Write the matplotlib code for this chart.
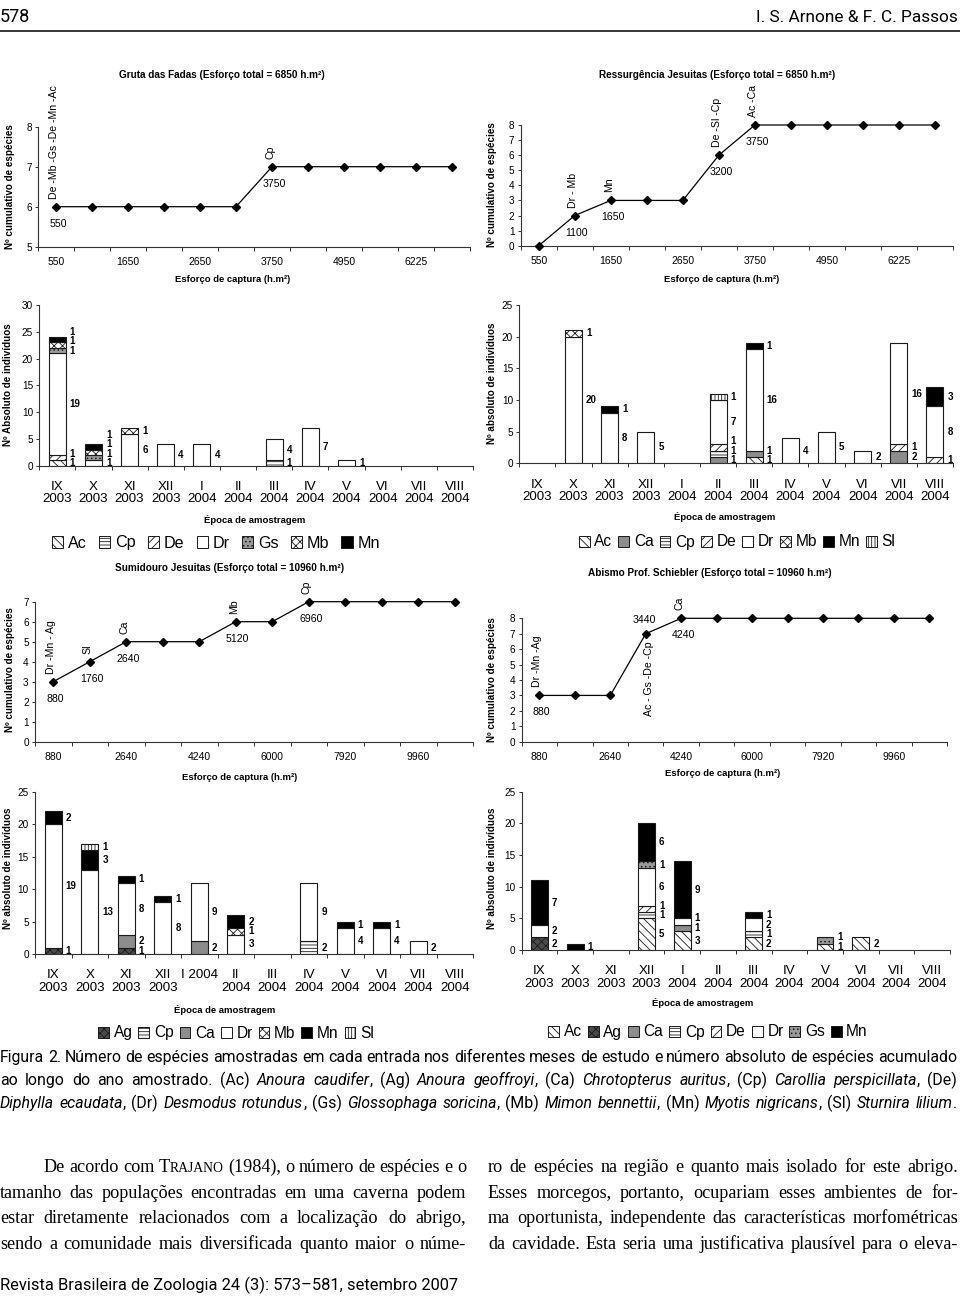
import numpy as np
import matplotlib
matplotlib.use('Agg')
import matplotlib.pyplot as plt
from matplotlib.patches import Patch
from matplotlib.lines import Line2D
from matplotlib import font_manager as fm

W, H, DPI = 960, 1299, 100
plt.rcParams['font.family'] = ['Liberation Sans', 'DejaVu Sans']
plt.rcParams['hatch.linewidth'] = 0.6
plt.rcParams['axes.linewidth'] = 0.8

# ------------------------------------------------------------------ data
month_labels = ['IX\n2003', 'X\n2003', 'XI\n2003', 'XII\n2003', 'I\n2004', 'II\n2004',
                'III\n2004', 'IV\n2004', 'V\n2004', 'VI\n2004', 'VII\n2004', 'VIII\n2004']
month_labels_sj = ['IX\n2003', 'X\n2003', 'XI\n2003', 'XII\n2003', 'I 2004', 'II\n2004',
                   'III\n2004', 'IV\n2004', 'V\n2004', 'VI\n2004', 'VII\n2004', 'VIII\n2004']

effort_6850 = ['550', '1650', '2650', '3750', '4950', '6225']
effort_10960 = ['880', '2640', '4240', '6000', '7920', '9960']

gf_cumulative = [6, 6, 6, 6, 6, 6, 7, 7, 7, 7, 7, 7]
rj_cumulative = [0, 2, 3, 3, 3, 6, 8, 8, 8, 8, 8, 8]
sj_cumulative = [3, 4, 5, 5, 5, 6, 6, 7, 7, 7, 7, 7]
ap_cumulative = [3, 3, 3, 7, 8, 8, 8, 8, 8, 8, 8, 8]

gf_notes = [(0, '550', 'below'), (0, 'De -Mb -Gs -De -Mn -Ac', 'above_rot'),
            (6, '3750', 'below'), (6, 'Cp', 'above_rot')]
rj_notes = [(1, '1100', 'below'), (1, 'Dr - Mb', 'above_rot'),
            (2, '1650', 'below'), (2, 'Mn', 'above_rot'),
            (5, '3200', 'below'), (5, 'De -Sl -Cp', 'above_rot'),
            (6, '3750', 'below'), (6, 'Ac -Ca', 'above_rot')]
sj_notes = [(0, '880', 'below'), (0, 'Dr -Mn - Ag', 'above_rot'),
            (1, '1760', 'below'), (1, 'Sl', 'above_rot'),
            (2, '2640', 'below'), (2, 'Ca', 'above_rot'),
            (5, '5120', 'below'), (5, 'Mb', 'above_rot'),
            (7, '6960', 'below'), (7, 'Cp', 'above_rot')]
ap_notes = [(0, '880', 'below'), (0, 'Dr -Mn -Ag', 'above_rot'),
            (3, '3440', 'above'), (3, 'Ac - Gs -De -Cp', 'below_rot'),
            (4, '4240', 'below'), (4, 'Ca', 'above_rot')]

# Gruta das Fadas (individuals per month)
gf_species = ['Ac', 'Cp', 'De', 'Dr', 'Gs', 'Mb', 'Mn']
gf_Ac = [1, 0, 0, 0, 0, 0, 0, 0, 0, 0, 0, 0]
gf_Cp = [0, 0, 0, 0, 0, 0, 1, 0, 0, 0, 0, 0]
gf_De = [1, 0, 0, 0, 0, 0, 0, 0, 0, 0, 0, 0]
gf_Dr = [19, 1, 6, 4, 4, 0, 4, 7, 1, 0, 0, 0]
gf_Gs = [1, 1, 0, 0, 0, 0, 0, 0, 0, 0, 0, 0]
gf_Mb = [1, 1, 1, 0, 0, 0, 0, 0, 0, 0, 0, 0]
gf_Mn = [1, 1, 0, 0, 0, 0, 0, 0, 0, 0, 0, 0]

# Ressurgencia Jesuitas
rj_species = ['Ac', 'Ca', 'Cp', 'De', 'Dr', 'Mb', 'Mn', 'Sl']
rj_Ac = [0, 0, 0, 0, 0, 0, 1, 0, 0, 0, 0, 0]
rj_Ca = [0, 0, 0, 0, 0, 1, 1, 0, 0, 0, 2, 0]
rj_Cp = [0, 0, 0, 0, 0, 1, 0, 0, 0, 0, 0, 0]
rj_De = [0, 0, 0, 0, 0, 1, 0, 0, 0, 0, 1, 1]
rj_Dr = [0, 20, 8, 5, 0, 7, 16, 4, 5, 2, 16, 8]
rj_Mb = [0, 1, 0, 0, 0, 0, 0, 0, 0, 0, 0, 0]
rj_Mn = [0, 0, 1, 0, 0, 0, 1, 0, 0, 0, 0, 3]
rj_Sl = [0, 0, 0, 0, 0, 1, 0, 0, 0, 0, 0, 0]

# Sumidouro Jesuitas
sj_species = ['Ag', 'Cp', 'Ca', 'Dr', 'Mb', 'Mn', 'Sl']
sj_Ag = [1, 0, 1, 0, 0, 0, 0, 0, 0, 0, 0, 0]
sj_Cp = [0, 0, 0, 0, 0, 0, 0, 2, 0, 0, 0, 0]
sj_Ca = [0, 0, 2, 0, 2, 0, 0, 0, 0, 0, 0, 0]
sj_Dr = [19, 13, 8, 8, 9, 3, 0, 9, 4, 4, 2, 0]
sj_Mb = [0, 0, 0, 0, 0, 1, 0, 0, 0, 0, 0, 0]
sj_Mn = [2, 3, 1, 1, 0, 2, 0, 0, 1, 1, 0, 0]
sj_Sl = [0, 1, 0, 0, 0, 0, 0, 0, 0, 0, 0, 0]

# Abismo Prof. Schiebler
ap_species = ['Ac', 'Ag', 'Ca', 'Cp', 'De', 'Dr', 'Gs', 'Mn']
ap_Ac = [0, 0, 0, 5, 3, 0, 2, 0, 1, 2, 0, 0]
ap_Ag = [2, 0, 0, 0, 0, 0, 0, 0, 0, 0, 0, 0]
ap_Ca = [0, 0, 0, 0, 1, 0, 0, 0, 0, 0, 0, 0]
ap_Cp = [0, 0, 0, 1, 0, 0, 1, 0, 0, 0, 0, 0]
ap_De = [0, 0, 0, 1, 0, 0, 0, 0, 0, 0, 0, 0]
ap_Dr = [2, 0, 0, 6, 1, 0, 2, 0, 0, 0, 0, 0]
ap_Gs = [0, 0, 0, 1, 0, 0, 0, 0, 1, 0, 0, 0]
ap_Mn = [7, 1, 0, 6, 9, 0, 1, 0, 0, 0, 0, 0]

gf_data = dict(Ac=gf_Ac, Cp=gf_Cp, De=gf_De, Dr=gf_Dr, Gs=gf_Gs, Mb=gf_Mb, Mn=gf_Mn)
rj_data = dict(Ac=rj_Ac, Ca=rj_Ca, Cp=rj_Cp, De=rj_De, Dr=rj_Dr, Mb=rj_Mb, Mn=rj_Mn, Sl=rj_Sl)
sj_data = dict(Ag=sj_Ag, Cp=sj_Cp, Ca=sj_Ca, Dr=sj_Dr, Mb=sj_Mb, Mn=sj_Mn, Sl=sj_Sl)
ap_data = dict(Ac=ap_Ac, Ag=ap_Ag, Ca=ap_Ca, Cp=ap_Cp, De=ap_De, Dr=ap_Dr, Gs=ap_Gs, Mn=ap_Mn)

caption_lines = [
    "Figura 2. Número de espécies amostradas em cada entrada nos diferentes meses de estudo e número absoluto de espécies acumulado",
    "ao longo do ano amostrado. (Ac) *Anoura *caudifer, (Ag) *Anoura *geoffroyi, (Ca) *Chrotopterus *auritus, (Cp) *Carollia *perspicillata, (De)",
    "*Diphylla *ecaudata, (Dr) *Desmodus *rotundus, (Gs) *Glossophaga *soricina, (Mb) *Mimon *bennettii, (Mn) *Myotis *nigricans, (Sl) *Sturnira *lilium.",
]
body_left = [
    "De acordo com ^Trajano (1984), o número de espécies e o",
    "tamanho das populações encontradas em uma caverna podem",
    "estar diretamente relacionados com a localização do abrigo,",
    "sendo a comunidade mais diversificada quanto maior o núme-",
]
body_right = [
    "ro de espécies na região e quanto mais isolado for este abrigo.",
    "Esses morcegos, portanto, ocupariam esses ambientes de for-",
    "ma oportunista, independente das características morfométricas",
    "da cavidade. Esta seria uma justificativa plausível para o eleva-",
]
header_left = "578"
header_right = "I. S. Arnone & F. C. Passos"
footer_text = "Revista Brasileira de Zoologia 24 (3): 573–581, setembro 2007"

# ------------------------------------------------------------------ styles
STY = {
    'Ac': dict(fc='white', hatch='\\\\\\\\'),
    'Ag': dict(fc='#4a4a4a', hatch='xxxx'),
    'Ca': dict(fc='#8c8c8c', hatch=None),
    'Cp': dict(fc='white', hatch='-----'),
    'De': dict(fc='white', hatch='////'),
    'Dr': dict(fc='white', hatch=None),
    'Gs': dict(fc='#999999', hatch='....'),
    'Mb': dict(fc='white', hatch='xxxx'),
    'Mn': dict(fc='black', hatch=None),
    'Sl': dict(fc='white', hatch='|||||'),
}
AXC = '#333333'

fig = plt.figure(figsize=(W / DPI, H / DPI), dpi=DPI)
fig.patch.set_facecolor('white')
renderer = fig.canvas.get_renderer()


def fx(x):
    return x / W


def fy(y):
    return 1 - y / H


def add_ax(left, top, right, bottom):
    return fig.add_axes([fx(left), fy(bottom), (right - left) / W, (bottom - top) / H])


def style_axes(ax, xlab_size, ylab_size, xpad):
    for s in ('top', 'right'):
        ax.spines[s].set_visible(False)
    for s in ('left', 'bottom'):
        ax.spines[s].set_color(AXC)
        ax.spines[s].set_linewidth(0.8)
    ax.tick_params(axis='x', which='major', direction='out', length=3, width=0.7, color=AXC)
    ax.tick_params(axis='x', which='minor', length=0, pad=xpad, labelsize=xlab_size)
    ax.tick_params(axis='y', which='major', direction='out', length=2.5, width=0.7,
                   color=AXC, labelsize=ylab_size, pad=2)
    ax.set_facecolor('none')


def line_panel(box, values, xlabels, ylim, notes):
    ax = add_ax(*box)
    n = len(values)
    x = np.arange(n)
    ax.plot(x, values, color='black', lw=0.9, marker='D', ms=3.6, clip_on=False, zorder=3)
    ax.set_xlim(-0.5, n - 0.5)
    ax.set_ylim(*ylim)
    ax.set_yticks(np.arange(ylim[0], ylim[1] + 1))
    ax.set_xticks(np.arange(-0.5, n), labels=[])
    ax.set_xticks(np.arange(0, n, 2), labels=xlabels, minor=True)
    style_axes(ax, 7.5, 7.2, 7.5)
    for i, txt, kind in notes:
        xy = (x[i], values[i])
        if kind == 'below':
            ax.annotate(txt, xy, xytext=(2, -17), textcoords='offset pixels',
                        ha='center', va='center', fontsize=7.6)
        elif kind == 'above':
            ax.annotate(txt, xy, xytext=(-1, 14), textcoords='offset pixels',
                        ha='center', va='center', fontsize=7.6)
        elif kind == 'above_rot':
            ax.annotate(txt, xy, xytext=(-2, 8), textcoords='offset pixels',
                        ha='center', va='bottom', rotation=90, fontsize=7.6)
        elif kind == 'below_rot':
            ax.annotate(txt, xy, xytext=(3, -8), textcoords='offset pixels',
                        ha='center', va='top', rotation=90, fontsize=7.6)
    return ax


def bar_panel(box, species, data, labels, ylim, ystep):
    ax = add_ax(*box)
    n = len(labels)
    x = np.arange(n)
    bottom = np.zeros(n)
    segs = [[] for _ in range(n)]
    width = 0.47
    for sp in species:
        vals = np.array(data[sp], dtype=float)
        m = vals > 0
        st = STY[sp]
        ax.bar(x[m], vals[m], width=width, bottom=bottom[m], color=st['fc'],
               hatch=st['hatch'], edgecolor='#1a1a1a', linewidth=0.8, zorder=2)
        for i in np.where(m)[0]:
            segs[i].append((bottom[i] + vals[i] / 2, vals[i]))
        bottom += vals
    ax.set_xlim(-0.5, n - 0.5)
    ax.set_ylim(*ylim)
    ax.set_yticks(np.arange(ylim[0], ylim[1] + 1, ystep))
    ax.set_xticks(np.arange(-0.5, n), labels=[])
    ax.set_xticks(x, labels=labels, minor=True)
    style_axes(ax, 9.6, 7.2, 11)
    for lab in ax.get_xticklabels(minor=True):
        lab.set_linespacing(1.05)
    ppu = (box[3] - box[1]) / (ylim[1] - ylim[0])
    gap = 9.5 / ppu
    for i in range(n):
        prev = -1e9
        for c, v in segs[i]:
            yy = max(c, prev + gap)
            ax.annotate(f'{v:g}', (x[i] + width / 2, yy), xytext=(4, 0),
                        textcoords='offset pixels', ha='left', va='center',
                        fontsize=7.0, fontweight='bold')
            prev = yy
    return ax


def legend_at(ax, species, cx, cy, fs=11.6, colsp=0.75):
    handles = [Patch(facecolor=STY[s]['fc'], edgecolor='#1a1a1a', hatch=STY[s]['hatch'],
                     linewidth=0.7) for s in species]
    ax.legend(handles, species, loc='center', bbox_to_anchor=(fx(cx), fy(cy)),
              bbox_transform=fig.transFigure, ncol=len(species), frameon=False,
              fontsize=fs, handlelength=0.7, handleheight=0.7, handletextpad=0.3,
              columnspacing=colsp, borderpad=0, borderaxespad=0)


def ftext(x, y, s, **kw):
    fig.text(fx(x), fy(y), s, **kw)


TITLE = dict(fontweight='bold', fontsize=7.2, ha='center', va='center')
XLAB = dict(fontweight='bold', fontsize=6.8, ha='center', va='center')
YLAB = dict(fontweight='bold', fontsize=7.1, ha='center', va='center', rotation=90)

# ------------------------------------------------------------------ panels
ax = line_panel((38, 126.7, 470, 246.7), gf_cumulative, effort_6850, (5, 8), gf_notes)
ftext(222, 75, 'Gruta das Fadas (Esforço total = 6850 h.m²)', **TITLE)
ftext(233, 280, 'Esforço de captura (h.m²)', **XLAB)
ftext(10, 187, 'Nº cumulativo de espécies', **YLAB)

ax = line_panel((520.7, 125, 953, 245.7), rj_cumulative, effort_6850, (0, 8), rj_notes)
ftext(717, 75, 'Ressurgência Jesuitas (Esforço total = 6850 h.m²)', **TITLE)
ftext(722, 280, 'Esforço de captura (h.m²)', **XLAB)
ftext(492, 185, 'Nº cumulativo de espécies', **YLAB)

ax = bar_panel((39.3, 305, 473, 465.7), gf_species, gf_data, month_labels, (0, 30), 5)
ftext(255, 520, 'Época de amostragem', **XLAB)
ftext(8, 385, 'Nº Absoluto de indivíduos', **YLAB)
legend_at(ax, gf_species, 216, 543)

ax = bar_panel((519.3, 305, 953, 463.3), rj_species, rj_data, month_labels, (0, 25), 5)
ftext(725, 517, 'Época de amostragem', **XLAB)
ftext(492, 383, 'Nº absoluto de indivíduos', **YLAB)
legend_at(ax, rj_species, 737, 542, fs=11.2, colsp=0.38)

ax = line_panel((35, 601.7, 473, 741.7), sj_cumulative, effort_10960, (0, 7), sj_notes)
ftext(230, 568, 'Sumidouro Jesuitas (Esforço total = 10960 h.m²)', **TITLE)
ftext(240, 777, 'Esforço de captura (h.m²)', **XLAB)
ftext(10, 670, 'Nº cumulativo de espécies', **YLAB)

ax = line_panel((521.7, 618.3, 947, 741.7), ap_cumulative, effort_10960, (0, 8), ap_notes)
ftext(710, 573, 'Abismo Prof. Schiebler (Esforço total = 10960 h.m²)', **TITLE)
ftext(723, 773, 'Esforço de captura (h.m²)', **XLAB)
ftext(492, 680, 'Nº cumulativo de espécies', **YLAB)

ax = bar_panel((35, 791.7, 473, 954), sj_species, sj_data, month_labels_sj, (0, 25), 5)
ftext(225, 1010, 'Época de amostragem', **XLAB)
ftext(8, 868, 'Nº absoluto de indivíduos', **YLAB)
legend_at(ax, sj_species, 236, 1033, fs=11.2, colsp=0.38)

ax = bar_panel((521.7, 791.7, 950, 950), ap_species, ap_data, month_labels, (0, 25), 5)
ftext(703, 1003, 'Época de amostragem', **XLAB)
ftext(492, 868, 'Nº absoluto de indivíduos', **YLAB)
legend_at(ax, ap_species, 708, 1032, fs=11.2, colsp=0.38)

# ------------------------------------------------------------------ page text
names = {f.name for f in fm.fontManager.ttflist}
SANS_C = 'Liberation Sans Narrow' if 'Liberation Sans Narrow' in names else 'Roboto'
SERIF = 'Liberation Serif' if 'Liberation Serif' in names else 'DejaVu Serif'


def run_width(txt, size, family, style='normal'):
    t = fig.text(0, 0, txt, fontsize=size, family=family, style=style)
    w = t.get_window_extent(renderer).width
    t.remove()
    return w


def parse_line(line):
    words = []
    for tok in line.split(' '):
        if tok.startswith('*'):
            core = tok[1:]
            trail = ''
            while core and core[-1] in ',.':
                trail = core[-1] + trail
                core = core[:-1]
            runs = [(core, 'italic', 1.0)]
            if trail:
                runs.append((trail, 'normal', 1.0))
        elif tok.startswith('^'):
            core = tok[1:]
            runs = [(core[0], 'normal', 1.0), (core[1:].upper(), 'normal', 0.76)]
        else:
            runs = [(tok, 'normal', 1.0)]
        words.append(runs)
    return words


def text_block(lines, spans, baselines, family, ref=10.0):
    parsed = [parse_line(l) for l in lines]
    sp = run_width('a a', ref, family) - run_width('aa', ref, family)
    scales = []
    for words, (x0, x1) in zip(parsed, spans):
        nat = sum(run_width(t, ref * sc, family, st) for w in words for t, st, sc in w)
        nat += sp * (len(words) - 1)
        scales.append((x1 - x0) / nat)
    size = ref * min(scales)
    for words, (x0, x1), yb in zip(parsed, spans, baselines):
        widths = [[run_width(t, size * sc, family, st) for t, st, sc in w] for w in words]
        tot = sum(sum(ws) for ws in widths)
        gap = (x1 - x0 - tot) / max(len(words) - 1, 1)
        xpos = x0
        for w, ws in zip(words, widths):
            xx = xpos
            for (t, st, sc), wd in zip(w, ws):
                fig.text(fx(xx), fy(yb), t, fontsize=size * sc, family=family, style=st,
                         ha='left', va='baseline')
                xx += wd
            xpos += sum(ws) + gap
    return size


def fit_size(txt, width, family, ref=10.0):
    return ref * width / run_width(txt, ref, family)


hs = fit_size(header_right, 202, SANS_C)
ftext(958, 22, header_right, fontsize=hs, family=SANS_C, ha='right', va='baseline')
ftext(0, 22, header_left, fontsize=hs * 1.05, family=SANS_C, ha='left', va='baseline')
fig.add_artist(Line2D([0, 1], [fy(31), fy(31)], transform=fig.transFigure,
                      color='black', lw=1.1))

text_block(caption_lines, [(0, 957)] * 3, [1062, 1085, 1108], SANS_C)
text_block(body_left + body_right,
           [(44, 466), (0, 466), (0, 466), (0, 466)] + [(488, 958)] * 4,
           [1172, 1198, 1223, 1249] * 2, SERIF)

fs = fit_size(footer_text, 458, SANS_C)
ftext(0, 1290, footer_text, fontsize=fs, family=SANS_C, ha='left', va='baseline')

fig.savefig('out.png', dpi=DPI, facecolor='white')
